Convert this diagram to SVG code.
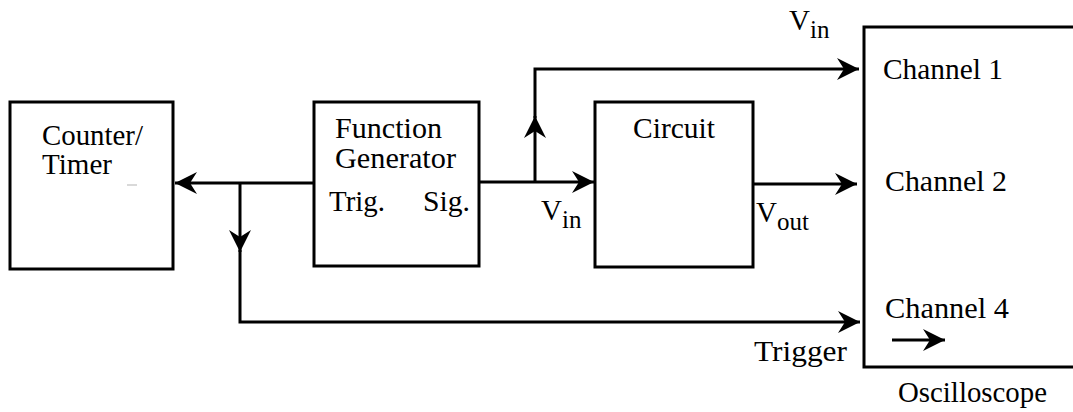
<svg xmlns="http://www.w3.org/2000/svg" width="1073" height="412" viewBox="0 0 1073 412">
<style>
.box{fill:#fff;stroke:#000;stroke-width:3}
.t{font-family:'Liberation Serif','Times New Roman',serif;font-size:29px;fill:#000}
.sub{font-size:25px}
.w{fill:none;stroke:#000;stroke-width:3}
</style>
<defs>
<marker id="ah" markerUnits="userSpaceOnUse" markerWidth="24" markerHeight="24" viewBox="-22 -12 24 24" refX="0" refY="0" orient="auto">
<path d="M0,0 L-22,-11 L-15,0 L-22,11 Z" fill="#000"/>
</marker>
</defs>
<rect width="1073" height="412" fill="#fff"/>
<g id="counter">
<rect class="box" x="10" y="102" width="163" height="167"/>
<text class="t" x="42" y="145" textLength="101" lengthAdjust="spacingAndGlyphs">Counter/</text>
<text class="t" x="42" y="174" textLength="70" lengthAdjust="spacingAndGlyphs">Timer</text>
<line x1="127" y1="185" x2="137" y2="185" stroke="#ccc" stroke-width="1.5"/>
</g>
<g id="funcgen">
<rect class="box" x="314" y="102" width="165" height="164"/>
<text class="t" x="335" y="138" textLength="107" lengthAdjust="spacingAndGlyphs">Function</text>
<text class="t" x="335" y="168" textLength="121" lengthAdjust="spacingAndGlyphs">Generator</text>
<text class="t" x="329" y="211" textLength="56" lengthAdjust="spacingAndGlyphs">Trig.</text>
<text class="t" x="423" y="211" textLength="47" lengthAdjust="spacingAndGlyphs">Sig.</text>
</g>
<g id="circuit">
<rect class="box" x="595" y="102" width="158" height="165"/>
<text class="t" x="633" y="138" textLength="82" lengthAdjust="spacingAndGlyphs">Circuit</text>
</g>
<g id="oscilloscope">
<rect class="box" x="864" y="27" width="220" height="340"/>
<text class="t" x="883" y="79" textLength="120" lengthAdjust="spacingAndGlyphs">Channel 1</text>
<text class="t" x="885" y="191" textLength="122" lengthAdjust="spacingAndGlyphs">Channel 2</text>
<text class="t" x="885" y="318" textLength="124" lengthAdjust="spacingAndGlyphs">Channel 4</text>
<line class="w" x1="892" y1="340" x2="945" y2="340" marker-end="url(#ah)" stroke-width="2.5"/>
<text class="t" x="898" y="402" textLength="149" lengthAdjust="spacingAndGlyphs">Oscilloscope</text>
</g>
<g id="connectors">
<path class="w" d="M314,183 L175,183" marker-end="url(#ah)"/>
<path class="w" d="M240,183 L240,252" marker-end="url(#ah)"/>
<path class="w" d="M240,250 L240,322 L860,322" marker-end="url(#ah)"/>
<path class="w" d="M479,182 L594,182" marker-end="url(#ah)"/>
<path class="w" d="M535,182 L535,116" marker-end="url(#ah)"/>
<path class="w" d="M535,118 L535,69 L859,69" marker-end="url(#ah)"/>
<path class="w" d="M753,184 L857,184" marker-end="url(#ah)"/>
</g>
<g id="labels">
<text class="t" x="789" y="30">V<tspan class="sub" dy="8">in</tspan></text>
<text class="t" x="541" y="220">V<tspan class="sub" dy="8">in</tspan></text>
<text class="t" x="756" y="222">V<tspan class="sub" dy="8">out</tspan></text>
<text class="t" x="754" y="361" textLength="93" lengthAdjust="spacingAndGlyphs">Trigger</text>
</g>
</svg>
